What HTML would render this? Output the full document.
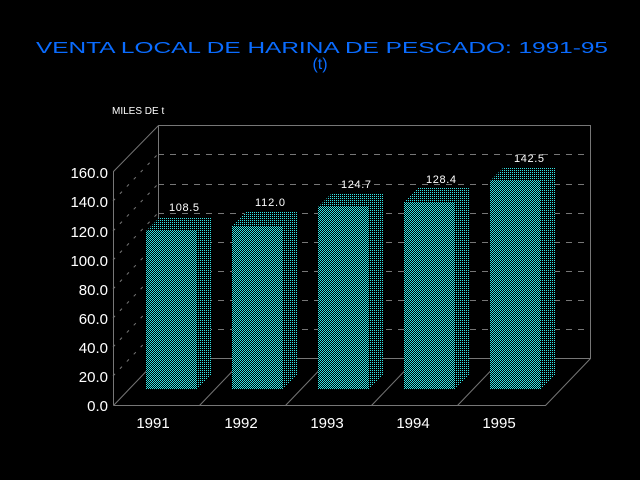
<!DOCTYPE html>
<html><head><meta charset="utf-8"><style>
html,body{margin:0;padding:0;background:#000;}
svg{display:block;}
text{font-family:"Liberation Sans",sans-serif;}
</style></head><body>
<svg width="640" height="480" viewBox="0 0 640 480" xmlns="http://www.w3.org/2000/svg">
<defs>
<pattern id="chk" width="2" height="2" patternUnits="userSpaceOnUse">
<rect width="2" height="2" fill="#000"/><rect width="1" height="1" fill="#33e6e6"/><rect x="1" y="1" width="1" height="1" fill="#33e6e6"/>
</pattern>
<pattern id="dot" width="2" height="2" patternUnits="userSpaceOnUse">
<rect width="2" height="2" fill="#000"/><rect width="1" height="1" fill="#33e6e6"/>
</pattern>
</defs>
<rect width="640" height="480" fill="#000"/>
<text x="322" y="53" fill="#0a6cff" font-size="16" text-anchor="middle" textLength="572" lengthAdjust="spacingAndGlyphs">VENTA LOCAL DE HARINA DE PESCADO: 1991-95</text>
<text x="320" y="69" fill="#0a6cff" font-size="16" text-anchor="middle">(t)</text>
<text x="112" y="114" fill="#fff" font-size="10">MILES DE t</text>
<g stroke="#777" stroke-width="1" fill="none">
<polyline points="113.5,405.5 113.5,171.5 158.5,125.5 590.5,125.5 590.5,358.5 545.5,405.5 113.5,405.5"/>
<line x1="158.5" y1="125.5" x2="158.5" y2="358.5"/>
<line x1="158.5" y1="358.5" x2="590.5" y2="358.5"/>
<line x1="113.5" y1="405.5" x2="158.5" y2="358.5"/>
<line x1="199.5" y1="405.5" x2="244.5" y2="358.5"/>
<line x1="285.5" y1="405.5" x2="330.5" y2="358.5"/>
<line x1="371.5" y1="405.5" x2="416.5" y2="358.5"/>
<line x1="457.5" y1="405.5" x2="502.5" y2="358.5"/>
</g>
<g stroke="#777" stroke-width="1" stroke-dasharray="6,6">
<line x1="158" y1="329.5" x2="590" y2="329.5"/>
<line x1="158" y1="300.5" x2="590" y2="300.5"/>
<line x1="158" y1="271.5" x2="590" y2="271.5"/>
<line x1="158" y1="242.5" x2="590" y2="242.5"/>
<line x1="158" y1="213.5" x2="590" y2="213.5"/>
<line x1="158" y1="184.5" x2="590" y2="184.5"/>
<line x1="158" y1="154.5" x2="590" y2="154.5"/>
</g>
<g stroke="#777" stroke-width="1" stroke-dasharray="3,7">
<line x1="113" y1="376" x2="158" y2="329"/>
<line x1="113" y1="347" x2="158" y2="300"/>
<line x1="113" y1="318" x2="158" y2="271"/>
<line x1="113" y1="289" x2="158" y2="242"/>
<line x1="113" y1="260" x2="158" y2="213"/>
<line x1="113" y1="231" x2="158" y2="184"/>
<line x1="113" y1="201" x2="158" y2="154"/>
</g>
<g fill="#fff" font-size="15" text-anchor="end">
<text x="108" y="411">0.0</text>
<text x="108" y="382">20.0</text>
<text x="108" y="353">40.0</text>
<text x="108" y="324">60.0</text>
<text x="108" y="295">80.0</text>
<text x="108" y="266">100.0</text>
<text x="108" y="237">120.0</text>
<text x="108" y="207">140.0</text>
<text x="108" y="178">160.0</text>
</g>
<g>
<polygon points="146,231 160,217 211,217 197,231" fill="url(#dot)"/><polygon points="197,231 211,217 211,375 197,389" fill="url(#dot)"/><rect x="146" y="231" width="51" height="158" fill="url(#chk)"/>
<polygon points="232,226 246,212 297,212 283,226" fill="url(#dot)"/><polygon points="283,226 297,212 297,375 283,389" fill="url(#dot)"/><rect x="232" y="226" width="51" height="163" fill="url(#chk)"/>
<polygon points="318,207 332,193 383,193 369,207" fill="url(#dot)"/><polygon points="369,207 383,193 383,375 369,389" fill="url(#dot)"/><rect x="318" y="207" width="51" height="182" fill="url(#chk)"/>
<polygon points="404,202 418,188 469,188 455,202" fill="url(#dot)"/><polygon points="455,202 469,188 469,375 455,389" fill="url(#dot)"/><rect x="404" y="202" width="51" height="187" fill="url(#chk)"/>
<polygon points="490,181 504,167 555,167 541,181" fill="url(#dot)"/><polygon points="541,181 555,167 555,375 541,389" fill="url(#dot)"/><rect x="490" y="181" width="51" height="208" fill="url(#chk)"/>
</g>
<g fill="#fff" font-size="11" text-anchor="middle">
<text x="184" y="211" textLength="30">108.5</text>
<text x="270" y="206" textLength="30">112.0</text>
<text x="356" y="188" textLength="30">124.7</text>
<text x="441" y="183" textLength="30">128.4</text>
<text x="529" y="162" textLength="30">142.5</text>
</g>
<g fill="#fff" font-size="15" text-anchor="middle">
<text x="153" y="428">1991</text>
<text x="241" y="428">1992</text>
<text x="327" y="428">1993</text>
<text x="413" y="428">1994</text>
<text x="499" y="428">1995</text>
</g>
</svg>
</body></html>
